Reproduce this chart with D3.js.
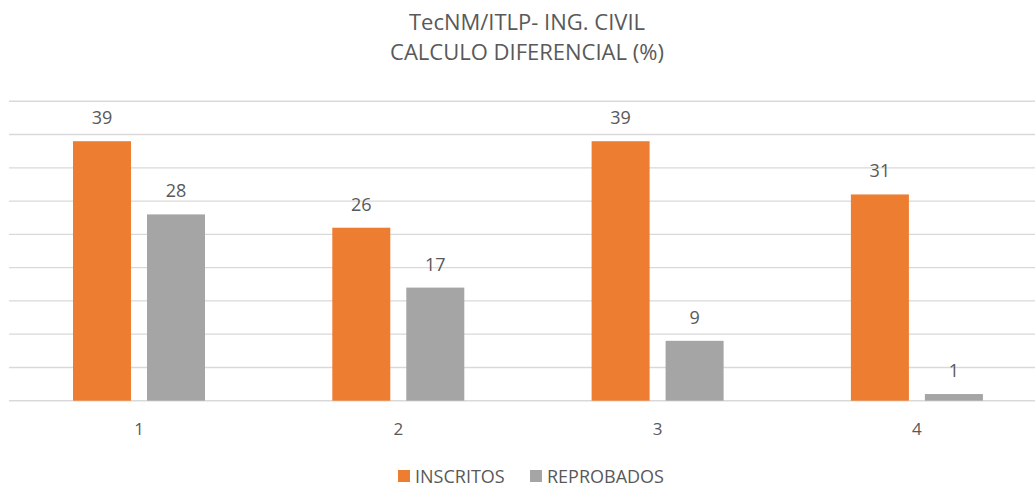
<!DOCTYPE html>
<html>
<head>
<meta charset="utf-8">
<script src="https://cdn.jsdelivr.net/npm/d3@7"></script>
<style>
  body { margin: 0; background: #fff; }
  text { font-family: "Open Sans", sans-serif; fill: #595959; }
</style>
</head>
<body>
<div id="container"></div>
<script>
let w = 1035;
let h = 487;

// data
let categories = ["1", "2", "3", "4"];
let seriesNames = ["INSCRITOS", "REPROBADOS"];
let inscritos = [39, 26, 39, 31];
let reprobados = [28, 17, 9, 1];
let seriesColors = ["#ED7D31", "#A5A5A5"];
let yTicks = [0, 5, 10, 15, 20, 25, 30, 35, 40, 45];
let titleLines = ["TecNM/ITLP- ING. CIVIL", "CALCULO DIFERENCIAL (%)"];

let viz = d3.select("#container")
  .append("svg")
    .attr("width", w)
    .attr("height", h)
;

// x scales (plot runs a bit past the right edge, as in the original)
let xScale = d3.scaleBand().domain(categories).range([9.3, 1046.5]);
let xInner = d3.scaleBand().domain(seriesNames).range([63.7, 195.7]).paddingInner(0.216);

// y scale
let yScale = d3.scaleLinear().domain([0, 45]).range([400.7, 101.3]);

// gridlines
viz.append("g").attr("class", "grid")
  .selectAll("line").data(yTicks).enter()
  .append("line")
    .attr("x1", 9)
    .attr("x2", w)
    .attr("y1", function(d){ return yScale(d); })
    .attr("y2", function(d){ return yScale(d); })
    .attr("stroke", "#D9D9D9")
    .attr("stroke-width", 1.4)
;

// title
viz.append("g").attr("class", "title")
  .selectAll("text").data(titleLines).enter()
  .append("text")
    .text(function(d){ return d; })
    .attr("x", 527)
    .attr("y", function(d, i){ return 30 + i * 30; })
    .attr("text-anchor", "middle")
    .attr("font-size", "22px")
;

// bars
let rows = categories.map(function(c, i){
  return { cat: c, values: [inscritos[i], reprobados[i]] };
});

let groups = viz.append("g").attr("class", "bars")
  .selectAll(".datagroup").data(rows).enter()
  .append("g")
    .attr("class", "datagroup")
    .attr("transform", function(d){ return "translate(" + xScale(d.cat) + ",0)"; })
;

let items = groups.selectAll(".item")
  .data(function(d){ return d.values.map(function(v, j){ return { name: seriesNames[j], value: v, idx: j }; }); })
  .enter()
  .append("g").attr("class", "item");

items.append("rect")
    .attr("x", function(d){ return xInner(d.name); })
    .attr("y", function(d){ return yScale(d.value); })
    .attr("width", xInner.bandwidth())
    .attr("height", function(d){ return yScale(0) - yScale(d.value); })
    .attr("fill", function(d){ return seriesColors[d.idx]; })
;

items.append("text")
    .text(function(d){ return d.value; })
    .attr("x", function(d){ return xInner(d.name) + xInner.bandwidth() / 2; })
    .attr("y", function(d){ return yScale(d.value) - 17; })
    .attr("text-anchor", "middle")
    .attr("font-size", "18px")
;

// category labels
viz.append("g").attr("class", "xlabels")
  .selectAll("text").data(categories).enter()
  .append("text")
    .text(function(d){ return d; })
    .attr("x", function(d){ return xScale(d) + 129.7; })
    .attr("y", 435)
    .attr("text-anchor", "middle")
    .attr("font-size", "17px")
;

// legend
let legendX = [398, 530];
let legend = viz.append("g").attr("class", "legend")
  .selectAll("g").data(seriesNames).enter()
  .append("g")
    .attr("transform", function(d, i){ return "translate(" + legendX[i] + ",470)"; })
;
legend.append("rect")
    .attr("width", 12)
    .attr("height", 12)
    .attr("fill", function(d, i){ return seriesColors[i]; })
;
legend.append("text")
    .text(function(d){ return d; })
    .attr("x", 17)
    .attr("y", 12.5)
    .attr("font-size", "18px")
;
</script>
</body>
</html>
